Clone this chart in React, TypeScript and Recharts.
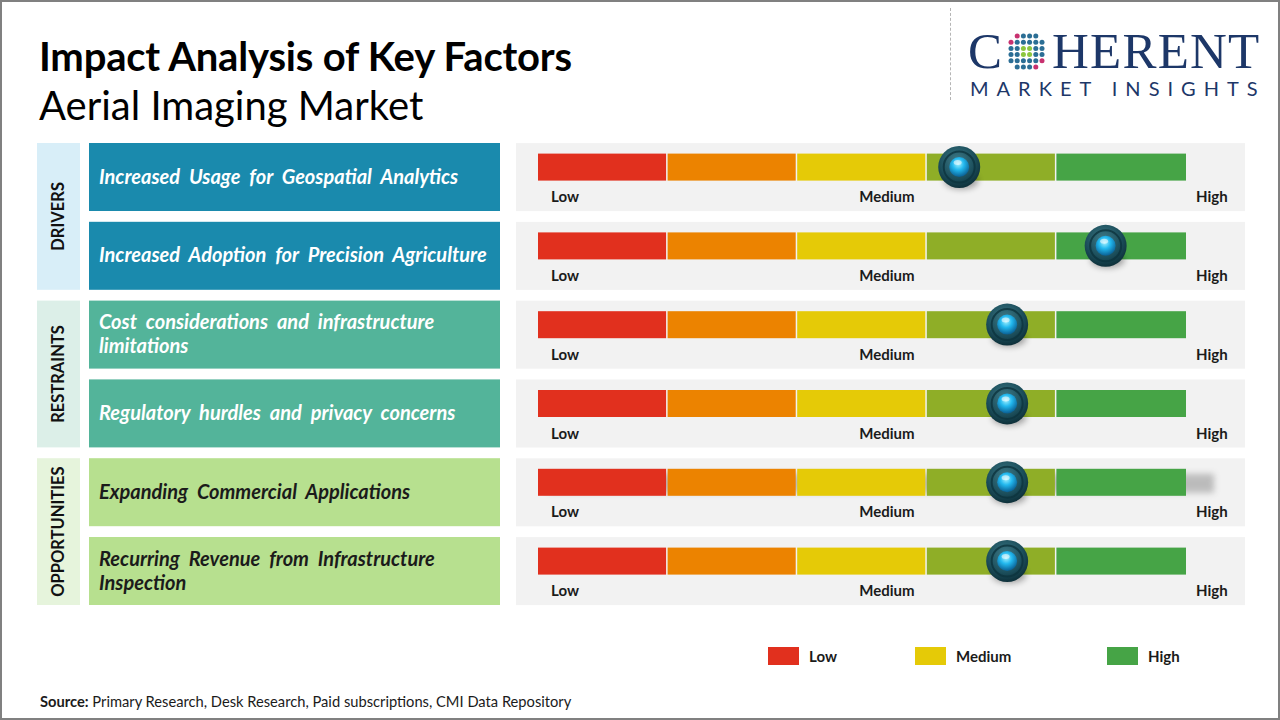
import React from "react";
import { ComposedChart, Bar, Scatter, XAxis, YAxis } from "recharts";

// rows, top to bottom
const factors = [
  "Increased Usage for Geospatial Analytics",
  "Increased Adoption for Precision Agriculture",
  "Cost considerations and infrastructure limitations",
  "Regulatory hurdles and privacy concerns",
  "Expanding Commercial Applications",
  "Recurring Revenue from Infrastructure Inspection",
];
const groups = ["DRIVERS", "RESTRAINTS", "OPPORTUNITIES"];
// marker position on the 0..5 gauge
const impactScores = [3.25, 4.38, 3.62, 3.62, 3.62, 3.62];
// five equal gauge segments
const segmentKeys = ["s0", "s1", "s2", "s3", "s4"];
const segmentValues = [1, 1, 1, 1, 1];
const scaleLabels = ["Low", "Medium", "High"];
const legendLabels = ["Low", "Medium", "High"];

const SEG_COLORS = ["#e1301e", "#ec8300", "#e5ca07", "#8fae27", "#46a446"];
const LEGEND_COLORS = ["#e1301e", "#e5ca07", "#46a446"];
const GROUP_BG = ["#d8eef8", "#dcefe8", "#e6f4dc"];
const GROUP_BOX = ["#1a8aad", "#53b49a", "#b7e08f"];
const GROUP_TEXT = ["#ffffff", "#ffffff", "#1b1b1b"];

const FONT = "Lato, 'Open Sans', sans-serif";
const PITCH = 78.8;
const ROW_H = 68;
const BAR_SHIFT = 10;

const data = factors.map((factor, i) => {
  const row: Record<string, any> = { factor, impact: impactScores[i] };
  segmentKeys.forEach((k, j) => (row[k] = segmentValues[j]));
  return row;
});

function wrap(text: string, max: number) {
  const lines: string[] = [];
  let cur = "";
  text.split(" ").forEach((w) => {
    const next = cur ? cur + " " + w : w;
    if (next.length > max && cur) {
      lines.push(cur);
      cur = w;
    } else cur = next;
  });
  if (cur) lines.push(cur);
  return lines;
}

const FactorTick = (props: any) => {
  const { y, payload } = props;
  const i = payload.index;
  const g = Math.floor(i / 2);
  const lines = wrap(payload.value, 45);
  const top = y - ROW_H / 2;
  return (
    <g>
      {i % 2 === 0 && (
        <g>
          <rect x={37} y={top} width={43} height={ROW_H + PITCH} fill={GROUP_BG[g]} />
          <text
            x={0}
            y={0}
            transform={`translate(64 ${top + (ROW_H + PITCH) / 2}) rotate(-90)`}
            textAnchor="middle"
            fontFamily={FONT}
            fontWeight={700}
            fontSize={16.5}
            fill="#111"
          >
            {groups[g]}
          </text>
        </g>
      )}
      <rect x={89} y={top} width={411} height={ROW_H} fill={GROUP_BOX[g]} />
      {lines.map((l, k) => (
        <text
          key={k}
          x={99}
          y={y + (k - (lines.length - 1) / 2) * 24 + 6.5}
          fontFamily={FONT}
          fontStyle="italic"
          fontWeight={700}
          fontSize={20}
          wordSpacing={4.5}
          fill={GROUP_TEXT[g]}
        >
          {l}
        </text>
      ))}
    </g>
  );
};

const labelStyle = {
  fontFamily: FONT,
  fontWeight: 700,
  fontSize: 15,
  fill: "#1b1b1b",
};

const makeSegment = (j: number) => (p: any) => {
  const { x, y, width, height, index } = p;
  const cy = y + height / 2;
  const last = j === segmentKeys.length - 1;
  return (
    <g>
      {j === 0 && <rect x={516} y={cy - ROW_H / 2} width={729} height={ROW_H} fill="#f2f2f2" />}
      {j === 0 && index === 4 && (
        <rect
          x={x + 10}
          y={y - BAR_SHIFT + 5}
          width={width * 5 + 18}
          height={height - 8}
          fill="#7a7a7a"
          opacity={0.45}
          filter="url(#blurShadow)"
        />
      )}
      <rect x={x} y={y - BAR_SHIFT} width={last ? width : width - 1.5} height={height} fill={SEG_COLORS[j]} />
      {j === 0 && (
        <text x={x + 13} y={cy + 20 + 5} {...labelStyle}>{scaleLabels[0]}</text>
      )}
      {j === 2 && (
        <text x={x + 62} y={cy + 20 + 5} {...labelStyle}>{scaleLabels[1]}</text>
      )}
      {j === 4 && (
        <text x={x + width + 10} y={cy + 20 + 5} {...labelStyle}>{scaleLabels[2]}</text>
      )}
    </g>
  );
};

const Marker = (p: any) => {
  const { cx, index } = p;
  const cy = p.cy - BAR_SHIFT;
  const id = `m${index}`;
  return (
    <g>
      <defs>
        <radialGradient id={`${id}o`} cx="45%" cy="35%" r="70%">
          <stop offset="0%" stopColor="#3f7b88" />
          <stop offset="60%" stopColor="#1c4f5c" />
          <stop offset="100%" stopColor="#0b2a33" />
        </radialGradient>
        <radialGradient id={`${id}i`} cx="45%" cy="35%" r="65%">
          <stop offset="0%" stopColor="#9ff0ff" />
          <stop offset="45%" stopColor="#22b8ee" />
          <stop offset="100%" stopColor="#0a5f93" />
        </radialGradient>
      </defs>
      <ellipse cx={cx + 2} cy={cy + 14} rx={17} ry={8} fill="#000" opacity={0.35} filter="url(#blurShadow)" />
      <circle cx={cx} cy={cy} r={21} fill={`url(#${id}o)`} />
      <circle cx={cx} cy={cy} r={15.5} fill="none" stroke="#0c333d" strokeWidth={2} opacity={0.8} />
      <circle cx={cx} cy={cy} r={10} fill={`url(#${id}i)`} />
      <ellipse cx={cx - 1.5} cy={cy - 4.5} rx={4} ry={2.5} fill="#ffffff" opacity={0.55} />
    </g>
  );
};

const GlobeDots = () => {
  const dots: JSX.Element[] = [];
  const colorAt = (r: number, c: number) => {
    const d = Math.hypot(r - 2.5, c - 2.5);
    if (d > 2.6) return (r + c) % 2 ? "#c8316f" : "#2b6e95";
    if (r >= 1.5 && r <= 3.5 && c >= 1.5 && c <= 3.5) return "#8cc63f";
    return "#2b6e95";
  };
  for (let r = 0; r < 6; r++) {
    for (let c = 0; c < 6; c++) {
      const d = Math.hypot(r - 2.5, c - 2.5);
      if (d > 3.2) continue;
      dots.push(<circle key={`${r}-${c}`} cx={4 + c * 6.2} cy={4 + r * 6.2} r={2.5} fill={colorAt(r, c)} />);
    }
  }
  return (
    <svg width={40} height={40} style={{ display: "block" }}>
      {dots}
    </svg>
  );
};

export default function App() {
  return (
    <div style={{ position: "relative", width: 1280, height: 720, background: "#fff", overflow: "hidden", fontFamily: FONT }}>
      <style>{`body{margin:0}`}</style>
      <svg width={0} height={0} style={{ position: "absolute" }}>
        <defs>
          <filter id="blurShadow" x="-30%" y="-80%" width="160%" height="260%">
            <feGaussianBlur stdDeviation="3" />
          </filter>
        </defs>
      </svg>

      <div style={{ position: "absolute", left: 39, top: 35.5, fontSize: 40, fontWeight: 700, color: "#000", lineHeight: 1, letterSpacing: -0.2, whiteSpace: "nowrap" }}>
        Impact Analysis of Key Factors
      </div>
      <div style={{ position: "absolute", left: 39, top: 84.5, fontSize: 40, fontWeight: 400, color: "#000", lineHeight: 1, whiteSpace: "nowrap" }}>
        Aerial Imaging Market
      </div>

      {/* logo */}
      <div style={{ position: "absolute", left: 950, top: 8, height: 92, borderLeft: "1.5px dashed #b5b5b5" }} />
      <div style={{ position: "absolute", left: 968, top: 26, display: "flex", alignItems: "center", color: "#1d3768", fontFamily: "'Liberation Serif', serif", fontSize: 51, lineHeight: 1 }}>
        <span>C</span>
        <span style={{ margin: "0 5px 0 5px" }}><GlobeDots /></span>
        <span style={{ letterSpacing: 1.2 }}>HERENT</span>
      </div>
      <div style={{ position: "absolute", left: 970, top: 78, color: "#1d3768", fontSize: 20, letterSpacing: 8, lineHeight: 1, whiteSpace: "nowrap" }}>
        MARKET INSIGHTS
      </div>

      <div style={{ position: "absolute", left: 0, top: 0 }}>
        <ComposedChart
          width={1280}
          height={720}
          data={data}
          layout="vertical"
          margin={{ top: 137.6, right: 94, bottom: 109.6, left: 0 }}
          barCategoryGap={0}
        >
          <XAxis type="number" domain={[0, 5]} hide />
          <YAxis type="category" dataKey="factor" width={538} axisLine={false} tickLine={false} tick={<FactorTick />} interval={0} />
          {segmentKeys.map((k, j) => (
            <Bar key={k} dataKey={k} stackId="gauge" barSize={27} isAnimationActive={false} shape={makeSegment(j)} />
          ))}
          <Scatter dataKey="impact" isAnimationActive={false} shape={<Marker />} />
        </ComposedChart>
      </div>

      {/* legend */}
      <div style={{ position: "absolute", top: 647, left: 768, display: "flex", alignItems: "center", fontSize: 15, fontWeight: 700, color: "#1b1b1b" }}>
        {legendLabels.map((l, i) => (
          <div key={l} style={{ display: "flex", alignItems: "center", width: [147, 192, 120][i] }}>
            <span style={{ width: 31, height: 18, background: LEGEND_COLORS[i], display: "inline-block", marginRight: 10 }} />
            <span>{l}</span>
          </div>
        ))}
      </div>

      <div style={{ position: "absolute", left: 40, top: 692, fontSize: 14.7, color: "#1b1b1b", whiteSpace: "nowrap" }}>
        <b>Source:</b> Primary Research, Desk Research, Paid subscriptions, CMI Data Repository
      </div>

      <div style={{ position: "absolute", inset: 0, border: "2px solid #808080", pointerEvents: "none" }} />
    </div>
  );
}
